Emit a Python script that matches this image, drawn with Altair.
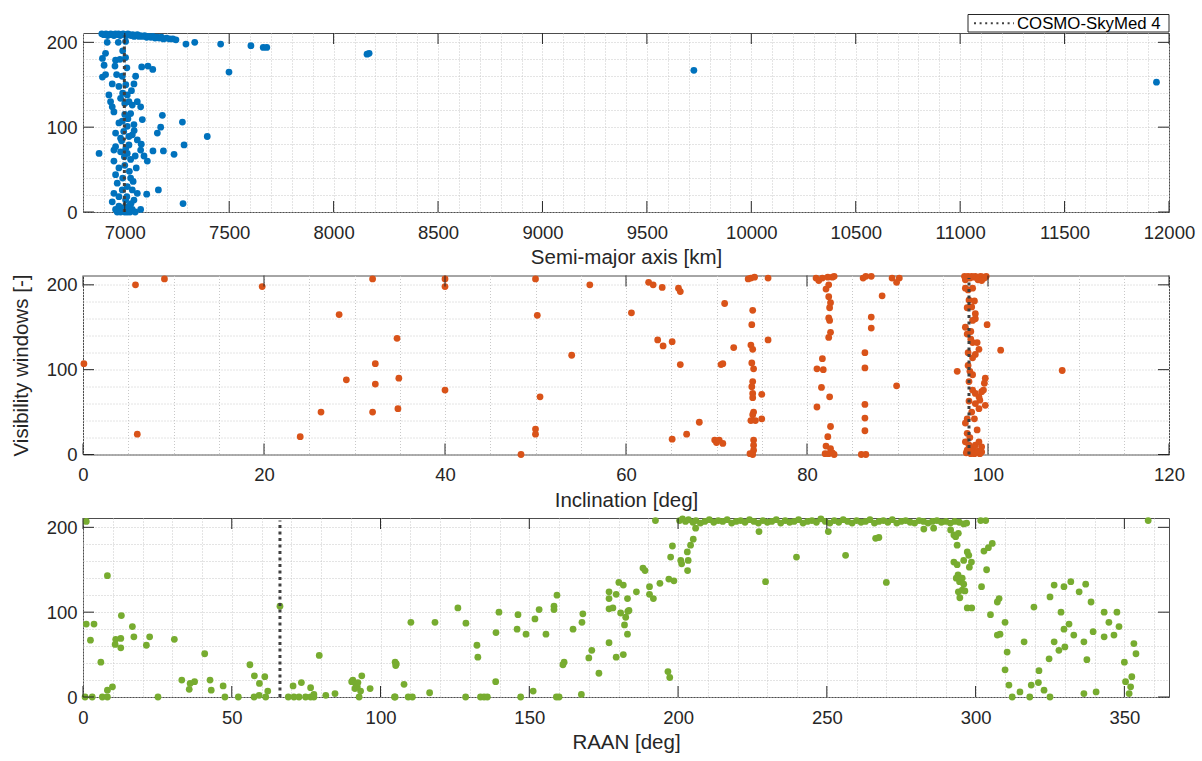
import altair as alt
import pandas as pd

FONT = "Liberation Sans"
AXC = "#262626"
W, H = 1086, 179
TL = 11

CSK_NAME = "COSMO-SkyMed 4"
csk_sma = 6998
csk_inc = 97.9
csk_raan = 66.2
csk_vis_span = [0, 208]

vis_domain = [0, 211]
vis_major = [0, 100, 200]
vis_grid = list(range(0, 201, 20))

sma_domain = [6800, 12000]
sma_major = list(range(7000, 12001, 500))
sma_grid = list(range(6800, 12001, 100))

inc_domain = [0, 120]
inc_major = list(range(0, 121, 20))
inc_grid = list(range(0, 121, 5))

raan_domain = [0, 365]
raan_major = list(range(0, 351, 50))
raan_grid = list(range(0, 361, 10))

# [semi-major axis km, visibility windows]
sma_points = [
    [6890, 210], [6900, 209], [6910, 210], [6918, 208], [6925, 209], [6933, 210], [6940, 209], [6948, 208],
    [6955, 210], [6962, 209], [6970, 210], [6978, 208], [6985, 209], [6992, 210], [7000, 209], [7008, 208],
    [7015, 210], [7022, 209], [7030, 208], [7038, 209], [7045, 207], [7052, 208], [7060, 209], [7068, 207],
    [7075, 208], [7085, 207], [7095, 208], [7105, 206], [7115, 207], [7125, 206], [7135, 207], [7145, 205],
    [7155, 206], [7165, 205], [7175, 206], [7185, 204], [7200, 205], [7215, 204], [7230, 204], [7245, 203],
    [7293, 198], [7335, 200], [7459, 198], [7604, 196], [7663, 194], [7680, 194], [8160, 186], [8170, 187],
    [7499, 165], [9725, 167], [11940, 153],
    [6916, 200], [6969, 200], [7004, 201], [6908, 187], [6893, 181], [6901, 173], [6956, 179], [6977, 180],
    [7004, 182], [6953, 172], [7081, 171], [7111, 172], [7134, 168], [6893, 159], [6908, 162], [6961, 162],
    [6988, 160], [7052, 160], [6940, 151], [7044, 151], [6972, 148], [6924, 138], [6932, 130], [6940, 124],
    [6948, 118], [6980, 134], [7012, 138], [7020, 130], [7036, 126], [7060, 130], [7076, 124], [7028, 116],
    [7180, 114], [7084, 109], [6972, 105], [6988, 107], [7012, 101], [7044, 103], [7276, 106], [7172, 100],
    [7156, 93], [7395, 89], [6956, 93], [6980, 87], [7020, 89], [7036, 91], [7060, 85], [7079, 80],
    [6956, 77], [7020, 79], [6877, 69], [6948, 73], [6980, 71], [7012, 69], [7076, 73], [7092, 66],
    [7135, 72], [7185, 72], [7236, 68], [7284, 79], [7108, 60], [6948, 60], [7028, 62], [7055, 52],
    [6972, 52], [7028, 40], [6956, 44], [6964, 34], [6988, 26], [7012, 30], [7036, 26], [7060, 22],
    [7105, 21], [7161, 26], [6948, 22], [6972, 18], [6940, 12], [7004, 14], [7044, 14], [7279, 10],
    [6972, 7], [7020, 7], [7076, 3], [6964, 0], [6988, 2], [7012, 0], [7036, 3], [6956, 3],
    [7000, 0], [6980, 0], [7025, 0], [7050, 0], [6995, 5], [7030, 10], [7010, 18], [6990, 40],
    [7000, 55], [6995, 95], [7000, 115], [6990, 140], [7005, 150], [6990, 190], [7010, 170], [7015, 110],
    [6998, 65], [7022, 48], [7040, 36], [7050, 66], [7045, 96], [7032, 143], [7000, 128], [6985, 84],
    [7005, 75],
]

# [inclination deg, visibility windows]
inc_points = [
    [0.1, 107], [5.8, 200], [9.0, 207], [19.8, 198], [6.0, 24], [24.0, 21], [26.3, 50], [28.3, 165],
    [29.1, 88], [32.0, 207], [32.3, 107], [32.3, 83], [32.0, 50], [34.7, 137], [34.9, 90], [34.8, 54],
    [40.0, 207], [40.0, 198], [40.0, 76], [48.4, 0], [50.0, 207], [50.2, 164], [50.0, 30], [50.0, 24],
    [50.5, 68], [54.0, 117], [56.0, 200], [60.6, 167], [62.5, 203], [63.0, 200], [64.0, 197], [65.8, 196],
    [66.0, 192], [63.5, 135], [64.1, 128], [65.1, 133], [66.0, 106], [65.1, 18], [66.7, 24], [68.1, 38],
    [69.8, 17], [70.0, 14],
    [73.8, 208], [74.2, 209], [73.5, 207], [75.7, 208], [70.9, 178], [74.0, 170], [73.9, 153], [75.7, 135],
    [71.9, 126], [73.8, 129], [74.0, 124], [70.5, 106], [70.7, 107], [73.9, 108], [74.1, 101], [74.0, 86],
    [73.9, 80], [74.0, 72], [74.0, 67], [75.0, 71], [74.1, 50], [74.0, 47], [73.8, 40], [74.3, 40],
    [75.0, 42], [74.1, 17], [74.1, 11], [74.1, 5], [74.0, 0], [73.7, 1], [70.7, 13], [70.3, 17],
    [81.0, 208], [81.3, 205], [81.7, 208], [82.3, 209], [82.8, 209], [83.0, 210], [82.1, 195], [82.4, 200],
    [82.4, 186], [82.6, 179], [82.5, 173], [82.4, 161], [82.5, 158], [82.6, 144], [82.4, 138], [81.7, 113],
    [81.1, 101], [81.8, 100], [81.6, 79], [82.5, 68], [81.1, 56], [82.6, 33], [82.3, 21], [82.1, 10],
    [82.6, 7], [82.0, 1], [82.4, 1], [83.0, 0], [82.8, 2],
    [86.2, 208], [86.5, 210], [87.1, 210], [88.3, 187], [87.1, 162], [87.1, 149], [86.4, 120], [86.4, 102],
    [86.4, 59], [86.4, 43], [86.4, 28], [86.0, 0], [86.5, 0], [89.4, 208], [90.2, 208], [89.9, 203],
    [89.9, 81],
    [97.4, 210], [97.6, 209], [97.8, 210], [98.0, 208], [98.2, 210], [98.4, 209], [98.6, 210], [98.8, 208],
    [99.0, 209], [99.2, 210], [99.4, 209], [99.6, 208], [99.8, 210], [97.5, 206], [98.9, 206], [99.3, 205],
    [97.5, 196], [97.8, 194], [98.3, 196], [97.9, 182], [98.5, 181], [97.7, 173], [98.2, 174], [98.6, 166],
    [98.6, 160], [98.3, 158], [99.9, 153], [97.5, 150], [97.7, 142], [98.1, 136], [98.3, 132], [98.8, 132],
    [99.0, 124], [98.6, 118], [98.3, 114], [101.4, 123], [96.6, 98], [97.8, 105], [98.0, 98], [98.3, 94],
    [97.9, 86], [99.7, 90], [99.6, 84], [98.3, 76], [98.6, 72], [99.0, 68], [99.3, 74], [99.5, 76],
    [99.1, 64], [98.6, 60], [99.7, 58], [99.0, 54], [97.7, 42], [98.5, 42], [97.5, 37], [98.8, 29],
    [97.7, 25], [97.5, 15], [97.9, 11], [98.3, 7], [98.6, 11], [99.0, 15], [99.3, 9], [97.7, 5],
    [98.5, 1], [99.1, 1], [99.3, 3], [98.1, 1], [97.6, 2], [98.9, 4], [98.0, 20], [98.2, 50],
    [97.9, 63], [98.1, 145], [97.8, 120], [108.2, 99],
]

# [RAAN deg, visibility windows]
raan_points = [
    [1.1, 207], [1.1, 86], [3.7, 86], [2.5, 67], [6.0, 41], [8.2, 143], [8.2, 8], [9.9, 12],
    [10.8, 62], [11.0, 68], [12.9, 96], [12.7, 58], [12.7, 69], [16.6, 83], [17.1, 71], [21.3, 61],
    [22.4, 71], [30.7, 68], [40.9, 51], [33.2, 20], [36.0, 16], [35.7, 9], [37.5, 18], [42.7, 20],
    [43.1, 8], [47.1, 13], [56.1, 38], [57.6, 25], [61.1, 24], [59.3, 16], [62.1, 7], [66.2, 107],
    [70.6, 13], [73.4, 17], [76.5, 11], [79.4, 49], [90.7, 20], [90.3, 18], [91.6, 16], [92.4, 17],
    [93.7, 25], [91.4, 10], [93.3, 7], [92.2, 12], [96.5, 10], [84.7, 4], [81.6, 2], [105.1, 37],
    [105.3, 39],
    [0.7, 0], [3.1, 0], [6.5, 0], [8.2, 0], [25.2, 0], [47.7, 0], [52.2, 0], [57.5, 0],
    [59.2, 2], [61.4, 0], [69.0, 0], [70.9, 0], [72.6, 0], [74.8, 0], [76.5, 0], [77.6, 0],
    [77.6, 3], [92.8, 0], [104.9, 0],
    [104.7, 0], [107.9, 15], [109.3, 0], [110.7, 0], [116.5, 5], [128.6, 0], [133.6, 0], [134.8, 0],
    [135.9, 0], [138.7, 18], [147.1, 0], [151.3, 7], [159.1, 0], [160.0, 0], [167.5, 3],
    [104.9, 41], [110.2, 88], [118.3, 88], [126.0, 105], [128.7, 87], [132.4, 61], [132.7, 47], [139.8, 100],
    [138.8, 76], [145.9, 80], [146.2, 97], [148.9, 74], [151.9, 92], [153.3, 103], [155.6, 74], [159.3, 120],
    [158.3, 107], [158.3, 103], [161.7, 41], [161.3, 38], [164.7, 80], [167.7, 88], [168.0, 98], [170.0, 46],
    [171.0, 55],
    [192.4, 208], [173.4, 28], [176.8, 64], [179.2, 47], [181.6, 50], [176.8, 116], [176.8, 104], [178.1, 105],
    [176.8, 124], [179.2, 121], [180.1, 135], [181.6, 132], [180.7, 99], [182.4, 94], [183.1, 101], [183.5, 102],
    [182.0, 85], [183.0, 74], [183.0, 116], [186.0, 124], [188.2, 152], [188.9, 149], [190.4, 130], [190.4, 121],
    [191.7, 116], [193.9, 134], [196.9, 139], [198.6, 137], [196.6, 30], [197.2, 23], [197.5, 165], [198.1, 178],
    [200.9, 161], [201.2, 157], [203.4, 161], [203.2, 149], [203.1, 171], [204.2, 179], [205.1, 186], [205.9, 199],
    [200.5, 208], [201.5, 210], [202.5, 207], [203.5, 209], [205.0, 206], [206.0, 208], [207.5, 205], [209.0, 207],
    [210.5, 209], [212.0, 206], [213.5, 208], [215.0, 207], [216.5, 209], [218.0, 205], [219.5, 207], [221.0, 208],
    [222.5, 206], [224.0, 209], [225.5, 207], [227.0, 205], [228.5, 208], [230.0, 206], [231.5, 207], [233.0, 209],
    [234.5, 205], [236.0, 208], [237.5, 206], [239.0, 207], [240.5, 209], [242.0, 205], [243.5, 207], [245.0, 208],
    [246.5, 206], [248.0, 210], [249.5, 207], [251.0, 205], [252.5, 208], [254.0, 206], [255.5, 209], [257.0, 207],
    [258.5, 205], [260.0, 208], [261.5, 206], [263.0, 207], [264.5, 209], [266.0, 205], [267.5, 207], [269.0, 208],
    [270.5, 206], [272.0, 209], [273.5, 205], [275.0, 207], [276.5, 208], [278.0, 206], [279.5, 205], [281.0, 208],
    [282.5, 207], [284.0, 205], [285.5, 207], [287.0, 208], [288.5, 206], [290.0, 207], [291.5, 205], [293.0, 207],
    [294.5, 206], [296.0, 204], [297.0, 205],
    [227.2, 195], [229.4, 136], [239.8, 165], [250.5, 195], [256.3, 167], [266.4, 187], [267.5, 188], [270.0, 135],
    [282.6, 198], [285.9, 199], [291.6, 197], [292.7, 191], [294.2, 193], [293.3, 189], [293.8, 179], [292.7, 159],
    [293.8, 156], [296.0, 161], [297.2, 171], [297.7, 167], [298.6, 159], [297.9, 153], [294.1, 144], [293.5, 140],
    [294.6, 136], [295.5, 140], [296.0, 133], [294.2, 124], [295.5, 126], [294.7, 117], [296.4, 125], [297.2, 105],
    [298.7, 105], [302.0, 130], [301.7, 208], [303.4, 208], [302.8, 172], [304.3, 176], [305.6, 181], [303.7, 150],
    [305.0, 97], [307.3, 112], [307.3, 73],
    [307.9, 116], [309.9, 88], [308.2, 74], [310.6, 53], [309.9, 32], [311.2, 14], [312.3, 0], [314.9, 6],
    [318.2, 0], [318.7, 14], [321.1, 17], [325.0, 0], [316.3, 65], [319.6, 106], [321.3, 31], [323.0, 8],
    [324.7, 45], [325.0, 118], [328.7, 100], [329.7, 80], [326.4, 65], [328.0, 55], [330.0, 59], [331.4, 86],
    [333.0, 73], [326.4, 132], [329.7, 130], [332.0, 136], [334.8, 124], [337.0, 133], [336.4, 65], [339.5, 77],
    [337.4, 44], [338.8, 112], [343.2, 100], [344.8, 88], [346.5, 73], [348.2, 83], [347.5, 100], [343.2, 71],
    [353.2, 63], [350.0, 41], [352.5, 24], [350.4, 18], [352.1, 12], [351.6, 4], [353.9, 51], [358.0, 208],
    [340.5, 6], [336.4, 4],
]


def panel(points, color, x_dom, x_major, x_grid, major_step, x_title, csk_x, y_title, with_legend):
    df = pd.DataFrame(points, columns=["val", "vis"])
    xs = alt.Scale(domain=x_dom, nice=False, zero=False)
    ys = alt.Scale(domain=vis_domain, nice=False, zero=False)
    x_axis = alt.Axis(
        values=x_grid,
        labelExpr=f"datum.value % {major_step} === 0 ? datum.label : ''",
        format="d", grid=True, gridDash=[1, 2], gridColor="#c8c8c8", gridWidth=1,
        ticks=False, tickSize=0, domain=False,
        labelFont=FONT, labelFontSize=18.5, labelColor=AXC, labelPadding=11,
        labelFlush=False, labelOverlap=False, labelBound=False,
        title=x_title, titleFont=FONT, titleFontSize=20.5, titleFontWeight="normal",
        titleColor=AXC, titlePadding=6,
    )
    y_kwargs = dict(
        values=vis_grid,
        labelExpr="datum.value % 100 === 0 ? datum.label : ''",
        format="d", grid=True, gridDash=[1, 2], gridColor="#c8c8c8", gridWidth=1,
        ticks=False, tickSize=0, domain=False,
        labelFont=FONT, labelFontSize=18.5, labelColor=AXC, labelPadding=6,
        labelOverlap=False, labelFlush=False,
        titleFont=FONT, titleFontSize=20.5, titleFontWeight="normal", titleColor=AXC,
        titlePadding=15,
    )
    if y_title:
        y_axis = alt.Axis(title=y_title, **y_kwargs)
    else:
        y_axis = alt.Axis(title=None, **y_kwargs)

    pts = alt.Chart(df).mark_circle(size=46, opacity=1, color=color).encode(
        x=alt.X("val:Q", scale=xs, axis=x_axis),
        y=alt.Y("vis:Q", scale=ys, axis=y_axis),
    )
    line_df = pd.DataFrame({"val": [csk_x], "y0": [csk_vis_span[0]], "y1": [csk_vis_span[1]]})
    line = alt.Chart(line_df).mark_rule(color="#404040", strokeWidth=3, strokeDash=[3, 3.5]).encode(
        x=alt.X("val:Q", scale=xs, axis=x_axis),
        y=alt.Y("y0:Q", scale=ys, axis=y_axis),
        y2="y1:Q",
    )
    xt = pd.DataFrame({"t": x_major})
    yt = pd.DataFrame({"t": vis_major})
    tick = dict(color=AXC, strokeWidth=1)
    bt = alt.Chart(xt).mark_rule(**tick).encode(
        x=alt.X("t:Q", scale=xs, axis=x_axis), y=alt.value(H), y2=alt.value(H - TL))
    tt = alt.Chart(xt).mark_rule(**tick).encode(
        x=alt.X("t:Q", scale=xs, axis=x_axis), y=alt.value(0), y2=alt.value(TL))
    lt = alt.Chart(yt).mark_rule(**tick).encode(
        y=alt.Y("t:Q", scale=ys, axis=y_axis), x=alt.value(0), x2=alt.value(TL))
    rt = alt.Chart(yt).mark_rule(**tick).encode(
        y=alt.Y("t:Q", scale=ys, axis=y_axis), x=alt.value(W - TL), x2=alt.value(W))
    layers = [pts, line, bt, tt, lt, rt]
    if with_legend:
        leg_df = pd.DataFrame({"name": [CSK_NAME]})
        lx0 = W - 201
        box = alt.Chart(leg_df).mark_rect(fill="white", stroke=AXC, strokeWidth=1).encode(
            x=alt.value(lx0), x2=alt.value(W), y=alt.value(-18.5), y2=alt.value(-1))
        sample = alt.Chart(leg_df).mark_rule(color="#404040", strokeWidth=2, strokeDash=[2, 3.6]).encode(
            x=alt.value(lx0 + 6), x2=alt.value(lx0 + 46), y=alt.value(-9.7))
        lab = alt.Chart(leg_df).mark_text(
            align="left", baseline="middle", font=FONT, fontSize=16.8, color="#000000").encode(
            x=alt.value(lx0 + 49), y=alt.value(-9.3), text="name:N")
        layers += [box, sample, lab]
    return alt.layer(*layers).properties(width=W, height=H)


p1 = panel(sma_points, "#0072BD", sma_domain, sma_major, sma_grid, 500,
           "Semi-major axis [km]", csk_sma, None, True)
p2 = panel(inc_points, "#D95319", inc_domain, inc_major, inc_grid, 20,
           "Inclination [deg]", csk_inc, "Visibility windows [-]", False)
p3 = panel(raan_points, "#77AC30", raan_domain, raan_major, raan_grid, 50,
           "RAAN [deg]", csk_raan, None, False)

chart = alt.vconcat(p1, p2, p3, spacing=63.5, bounds="flush").properties(
    padding={"left": 10, "top": 13, "right": 5, "bottom": 5},
    background="white",
).configure_view(stroke="#4d4d4d", strokeWidth=1)

chart.save("out.html", embed_options={"renderer": "svg", "actions": False})
